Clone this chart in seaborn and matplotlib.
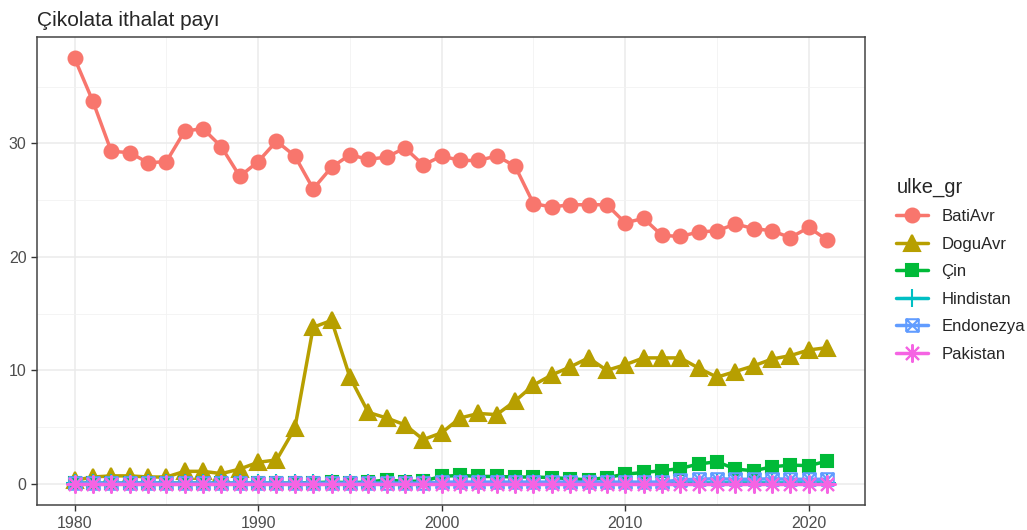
import numpy as np
import pandas as pd
import seaborn as sns
import matplotlib.pyplot as plt
from matplotlib.path import Path
from matplotlib.markers import MarkerStyle

years = list(range(1980, 2022))

bati_avr = [37.5, 33.7, 29.3, 29.2, 28.3, 28.4, 31.1, 31.3, 29.7, 27.1,
            28.4, 30.2, 28.9, 26.0, 27.9, 29.0, 28.6, 28.8, 29.6, 28.1,
            28.9, 28.5, 28.5, 28.9, 28.0, 24.7, 24.4, 24.6, 24.6, 24.6,
            23.0, 23.4, 21.9, 21.8, 22.2, 22.3, 22.9, 22.5, 22.3, 21.7,
            22.6, 21.5]
dogu_avr = [0.3, 0.6, 0.7, 0.7, 0.6, 0.6, 1.1, 1.1, 0.9, 1.3,
            1.9, 2.1, 4.9, 13.8, 14.4, 9.4, 6.3, 5.8, 5.2, 3.9,
            4.5, 5.8, 6.2, 6.1, 7.3, 8.7, 9.6, 10.3, 11.1, 10.0,
            10.5, 11.1, 11.1, 11.1, 10.2, 9.4, 9.9, 10.4, 11.0, 11.3,
            11.8, 12.0]
cin = [0.05, 0.05, 0.05, 0.05, 0.05, 0.05, 0.05, 0.05, 0.05, 0.05,
       0.05, 0.05, 0.05, 0.1, 0.15, 0.1, 0.15, 0.35, 0.2, 0.25,
       0.65, 0.75, 0.65, 0.65, 0.6, 0.6, 0.55, 0.45, 0.35, 0.55,
       0.85, 1.0, 1.15, 1.35, 1.75, 1.95, 1.3, 1.15, 1.5, 1.65,
       1.6, 2.0]
hindistan = [0.05] * 30 + [0.08] * 12
endonezya = [0.05] * 20 + [0.15] * 13 + [0.35, 0.4, 0.45, 0.4, 0.4, 0.45, 0.4, 0.4, 0.4]
pakistan = [0.0] * 42

groups = ["BatiAvr", "DoguAvr", "Çin", "Hindistan", "Endonezya", "Pakistan"]
colors = ["#F8766D", "#B79F00", "#00BA38", "#00BFC4", "#619CFF", "#F564E3"]

df = pd.DataFrame({
    "yil": years * 6,
    "pay": bati_avr + dogu_avr + cin + hindistan + endonezya + pakistan,
    "ulke_gr": np.repeat(groups, len(years)),
})

# boxed X marker like ggplot shape 7
box_x = Path(
    [(-1, -1), (1, -1), (1, 1), (-1, 1), (-1, -1), (-1, -1), (1, 1), (-1, 1), (1, -1)],
    [Path.MOVETO, Path.LINETO, Path.LINETO, Path.LINETO, Path.LINETO,
     Path.MOVETO, Path.LINETO, Path.MOVETO, Path.LINETO],
)
markers = ["o", "^", "s", "+", MarkerStyle(box_x, fillstyle="none"), (8, 2, 0)]
msizes = [10, 11, 9, 13, 9, 13]

sns.set_style("white")
plt.rcParams["font.family"] = ["Liberation Sans", "DejaVu Sans"]

fig = plt.figure(figsize=(10.27, 5.30), dpi=100)
ax = fig.add_axes([0.036, 0.047, 0.806, 0.883])

for g, c, m, ms in zip(groups, colors, markers, msizes):
    sub = df[df["ulke_gr"] == g]
    sns.lineplot(data=sub, x="yil", y="pay", color=c, marker=m, markersize=ms,
                 markeredgecolor=c, markeredgewidth=1.5, linewidth=2.5,
                 label=g, ax=ax)

ax.set_xlim(1977.95, 2023.05)
ax.set_ylim(-1.875, 39.375)
ax.set_xticks([1980, 1990, 2000, 2010, 2020])
ax.set_yticks([0, 10, 20, 30])
ax.set_xticks([1985, 1995, 2005, 2015], minor=True)
ax.set_yticks([5, 15, 25, 35], minor=True)
ax.grid(which="major", color="#EBEBEB", linewidth=1.1)
ax.grid(which="minor", color="#F2F2F2", linewidth=0.6)
ax.set_axisbelow(True)
for s in ax.spines.values():
    s.set_color("#444444")
    s.set_linewidth(1.1)
ax.tick_params(axis="both", which="major", length=4, width=1, color="#333333",
               labelsize=11.5, labelcolor="#4D4D4D", direction="out",
               bottom=True, left=True)
ax.tick_params(axis="both", which="minor", length=0)
ax.set_xlabel("")
ax.set_ylabel("")
ax.set_title("Çikolata ithalat payı", loc="left", fontsize=15, pad=8)

ax.legend(loc="center left", bbox_to_anchor=(1.02, 0.503), frameon=False,
          title="ulke_gr", fontsize=12, title_fontsize=14.5,
          handlelength=1.9, labelspacing=0.75, alignment="left")

fig.savefig("out.png", dpi=100)
